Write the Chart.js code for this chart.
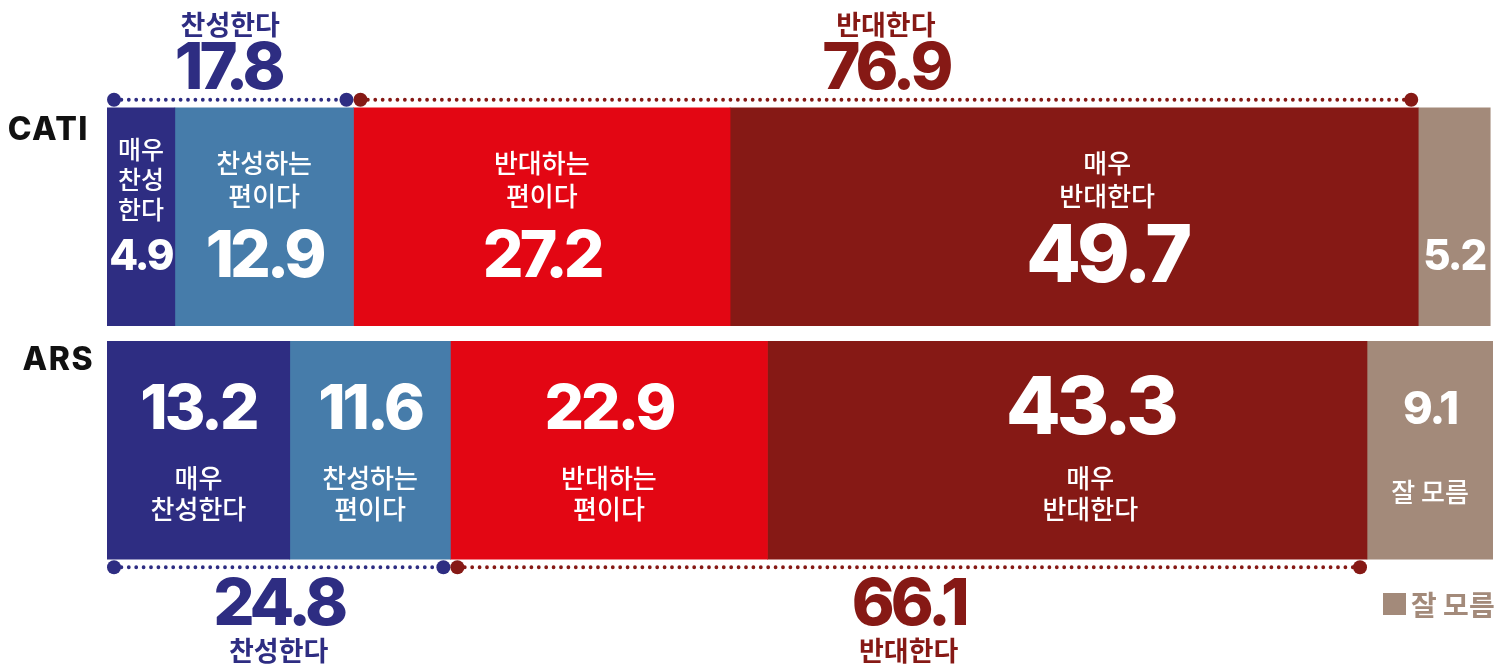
<!DOCTYPE html>
<html lang="ko">
<head>
<meta charset="utf-8">
<title>CATI / ARS 찬반</title>
<script src="https://cdn.jsdelivr.net/npm/chart.js@4.4.1/dist/chart.umd.min.js"></script>
<style>
  html, body { margin: 0; padding: 0; background: #fff; }
  #wrap { width: 1500px; height: 671px; position: relative; }
</style>
</head>
<body>
<div id="wrap"><canvas id="chart"></canvas></div>
<script>
// rows
const categories = ["CATI", "ARS"];

// series values, one array per answer
const seriesNames = ["매우 찬성한다", "찬성하는 편이다", "반대하는 편이다", "매우 반대한다", "잘 모름"];
const veryFor = [4.9, 13.2];
const somewhatFor = [12.9, 11.6];
const somewhatAgainst = [27.2, 22.9];
const veryAgainst = [49.7, 43.3];
const dontKnow = [5.2, 9.1];

// group totals shown on the brackets
const forTotals = [17.8, 24.8];
const againstTotals = [76.9, 66.1];

// text printed inside the segments
const catiNames = [["매우", "찬성", "한다"], ["찬성하는", "편이다"], ["반대하는", "편이다"], ["매우", "반대한다"], []];
const arsNames = [["매우", "찬성한다"], ["찬성하는", "편이다"], ["반대하는", "편이다"], ["매우", "반대한다"], ["잘 모름"]];

const colors = ["#2e2d82", "#467caa", "#e30613", "#861915", "#a38a7a"];
const BLUE = "#2e2d82";
const DARKRED = "#861915";
const NUM_FONT = "Inter, 'Noto Sans', sans-serif";
const KO_FONT = "'Noto Sans CJK KR', 'Noto Sans', sans-serif";

// number font sizes and horizontal nudges per row/segment
const numSizes = [[42, 64, 64, 80, 42], [62, 62, 62, 80, 45]];
const labelShift = [[0, 0, 0, 33, 0], [0, 0, 0, 23, 0]];

function numText(ctx, txt, x, y, size, color) {
  ctx.font = "800 " + size + "px " + NUM_FONT;
  ctx.letterSpacing = Math.round(-size * 0.055) + "px";
  ctx.fillStyle = color;
  ctx.textAlign = "center";
  ctx.textBaseline = "middle";
  ctx.fillText(txt, x, y);
  ctx.letterSpacing = "0px";
}

function koText(ctx, txt, x, y, size, weight, color, align) {
  ctx.font = weight + " " + size + "px " + KO_FONT;
  ctx.fillStyle = color;
  ctx.textAlign = align || "center";
  ctx.textBaseline = "middle";
  ctx.fillText(txt, x, y);
}

function rowLabel(ctx, txt, x, y) {
  ctx.font = "800 32px " + NUM_FONT;
  ctx.letterSpacing = "1.5px";
  ctx.fillStyle = "#111";
  ctx.textAlign = "right";
  ctx.textBaseline = "middle";
  ctx.fillText(txt, x, y);
  ctx.letterSpacing = "0px";
}

function bracket(ctx, x0, x1, y, color) {
  const r = 7;
  ctx.save();
  ctx.strokeStyle = color;
  ctx.lineWidth = 3.8;
  ctx.lineCap = "round";
  ctx.setLineDash([0, 7.4]);
  ctx.beginPath();
  ctx.moveTo(x0 + r, y);
  ctx.lineTo(x1 - r, y);
  ctx.stroke();
  ctx.restore();
  ctx.fillStyle = color;
  [x0 + r, x1 - r].forEach(function (x) {
    ctx.beginPath();
    ctx.arc(x, y, r, 0, Math.PI * 2);
    ctx.fill();
  });
}

const overlay = {
  id: "overlay",
  afterDatasetsDraw(chart) {
    const ctx = chart.ctx;
    const xs = chart.scales.x;
    const ys = chart.scales.y;
    ctx.save();

    // segment labels
    chart.data.datasets.forEach(function (ds, di) {
      const meta = chart.getDatasetMeta(di);
      meta.data.forEach(function (el, ri) {
        const p = el.getProps(["x", "y", "base"], true);
        const cx = (p.x + p.base) / 2 + labelShift[ri][di];
        const cy = p.y;
        const size = numSizes[ri][di];
        const val = ds.data[ri].toFixed(1);
        if (ri === 0) {
          const names = catiNames[di];
          if (names.length === 3) {
            names.forEach(function (t, k) { koText(ctx, t, cx, cy - 67 + k * 30, 25, 500, "#fff"); });
          } else {
            names.forEach(function (t, k) { koText(ctx, t, cx, cy - 54 + k * 33, 26, 500, "#fff"); });
          }
          numText(ctx, val, cx, cy + 41, size, "#fff");
        } else {
          numText(ctx, val, cx, cy - 40, size, "#fff");
          const names = arsNames[di];
          if (names.length === 1) {
            koText(ctx, names[0], cx, cy + 42, 26, 500, "#fff");
          } else {
            names.forEach(function (t, k) { koText(ctx, t, cx, cy + 28 + k * 31, 26, 500, "#fff"); });
          }
        }
      });
    });

    // row labels
    rowLabel(ctx, categories[0], 89, ys.getPixelForValue(0) - 86);
    rowLabel(ctx, categories[1], 94, ys.getPixelForValue(1) - 90);

    // brackets
    [0, 1].forEach(function (ri) {
      const x0 = xs.getPixelForValue(0);
      const x1 = xs.getPixelForValue(veryFor[ri] + somewhatFor[ri]);
      const x2 = xs.getPixelForValue(veryFor[ri] + somewhatFor[ri] + somewhatAgainst[ri] + veryAgainst[ri]);
      const yc = ys.getPixelForValue(ri);
      const forMid = (x0 + x1) / 2;
      const agMid = (x1 + x2) / 2;
      if (ri === 0) {
        const y = yc - 117;
        bracket(ctx, x0, x1, y, BLUE);
        bracket(ctx, x1, x2, y, DARKRED);
        koText(ctx, "찬성한다", forMid, y - 75, 27, 700, BLUE);
        numText(ctx, forTotals[ri].toFixed(1), forMid - 2, y - 30, 65, BLUE);
        koText(ctx, "반대한다", agMid, y - 75, 27, 700, DARKRED);
        numText(ctx, againstTotals[ri].toFixed(1), agMid, y - 30, 65, DARKRED);
      } else {
        const y = yc + 117;
        bracket(ctx, x0, x1, y, BLUE);
        bracket(ctx, x1, x2, y, DARKRED);
        numText(ctx, forTotals[ri].toFixed(1), forMid, y + 38, 65, BLUE);
        koText(ctx, "찬성한다", forMid, y + 83, 27, 700, BLUE);
        numText(ctx, againstTotals[ri].toFixed(1), agMid, y + 38, 65, DARKRED);
        koText(ctx, "반대한다", agMid, y + 83, 27, 700, DARKRED);
      }
    });

    // legend for 잘 모름
    ctx.fillStyle = colors[4];
    ctx.fillRect(1383, 593, 23, 22);
    koText(ctx, seriesNames[4], 1411, 605, 28, 700, colors[4], "left");

    ctx.restore();
  }
};

const allSeries = [veryFor, somewhatFor, somewhatAgainst, veryAgainst, dontKnow];

new Chart(document.getElementById("chart"), {
  type: "bar",
  data: {
    labels: categories,
    datasets: allSeries.map(function (vals, i) {
      return {
        label: seriesNames[i],
        data: vals,
        backgroundColor: colors[i],
        borderWidth: 0,
        barThickness: 218
      };
    })
  },
  options: {
    indexAxis: "y",
    responsive: true,
    maintainAspectRatio: false,
    animation: false,
    layout: { padding: { left: 107, right: 7, top: 100, bottom: 104 } },
    scales: {
      x: { stacked: true, min: 0, max: 100.1, display: false },
      y: { stacked: true, display: false }
    },
    plugins: {
      legend: { display: false },
      tooltip: { enabled: false }
    }
  },
  plugins: [overlay]
});
</script>
</body>
</html>
